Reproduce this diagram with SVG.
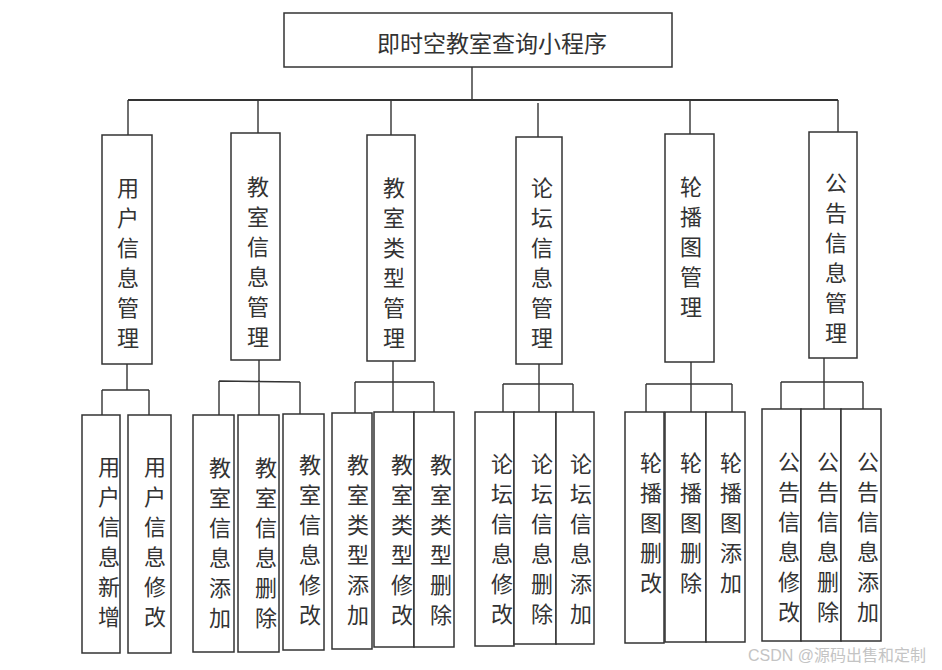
<svg xmlns="http://www.w3.org/2000/svg" width="942" height="670" viewBox="0 0 942 670">
<style>
  .box { fill: #ffffff; stroke: #333333; stroke-width: 1.5; }
  .t { font-family: "Noto Sans CJK SC", sans-serif; font-size: 22px; fill: #333333; text-anchor: middle; }
  .title { font-family: "Noto Sans CJK SC", sans-serif; font-size: 23px; fill: #333333; text-anchor: middle; }
  .conn path { fill: none; stroke: #333333; stroke-width: 1.4; }
  .wm { font-family: "Liberation Sans", "Noto Sans CJK SC", sans-serif; font-size: 16px; fill: #c4c4c4; }
</style>
<rect width="942" height="670" fill="#ffffff"/>
<g id="connectors" class="conn">
  <path d="M472,67 V100"/>
  <path d="M128,100 H838" style="stroke-width:2"/>
  <path d="M128,100 V135 M258,100 V133 M391,100 V135 M538,103 V137 M690,100 V134 M838,100 V132"/>
  <path d="M127,364 V390 M102,390 H149 M102,390 V415 M149,390 V417"/>
  <path d="M259,360 V415 M219,381 L300,382 M219,381 V415 M300,382 V414"/>
  <path d="M393,361 V412 M355,382 H434 M355,382 V413 M434,382 V412"/>
  <path d="M539,364 V412 M503,384 H573 M503,384 V412 M573,384 V412"/>
  <path d="M691,362 V412 M646,384 H732 M646,384 V412 M732,384 V412"/>
  <path d="M824,358 V409 M781,382 H863 M781,382 V409 M863,382 V409"/>
</g>
<g id="root">
  <rect class="box" x="284" y="13" width="388" height="54"/>
  <text class="title" x="492" y="52">即时空教室查询小程序</text>
</g>
<g id="n1">
  <rect class="box" x="102" y="135" width="50" height="229"/>
  <text class="t"><tspan x="128" y="196">用</tspan><tspan x="128" dy="30">户</tspan><tspan x="128" dy="30">信</tspan><tspan x="128" dy="30">息</tspan><tspan x="128" dy="30">管</tspan><tspan x="128" dy="30">理</tspan></text>
</g>
<g id="n2">
  <rect class="box" x="231" y="133" width="49" height="227"/>
  <text class="t"><tspan x="258" y="195">教</tspan><tspan x="258" dy="30">室</tspan><tspan x="258" dy="30">信</tspan><tspan x="258" dy="30">息</tspan><tspan x="258" dy="30">管</tspan><tspan x="258" dy="30">理</tspan></text>
</g>
<g id="n3">
  <rect class="box" x="367" y="135" width="48" height="226"/>
  <text class="t"><tspan x="394" y="196">教</tspan><tspan x="394" dy="30">室</tspan><tspan x="394" dy="30">类</tspan><tspan x="394" dy="30">型</tspan><tspan x="394" dy="30">管</tspan><tspan x="394" dy="30">理</tspan></text>
</g>
<g id="n4">
  <rect class="box" x="516" y="137" width="46" height="227"/>
  <text class="t"><tspan x="542" y="196">论</tspan><tspan x="542" dy="30">坛</tspan><tspan x="542" dy="30">信</tspan><tspan x="542" dy="30">息</tspan><tspan x="542" dy="30">管</tspan><tspan x="542" dy="30">理</tspan></text>
</g>
<g id="n5">
  <rect class="box" x="665" y="134" width="49" height="228"/>
  <text class="t"><tspan x="691" y="195">轮</tspan><tspan x="691" dy="30">播</tspan><tspan x="691" dy="30">图</tspan><tspan x="691" dy="30">管</tspan><tspan x="691" dy="30">理</tspan></text>
</g>
<g id="n6">
  <rect class="box" x="809" y="132" width="48" height="226"/>
  <text class="t"><tspan x="836" y="191">公</tspan><tspan x="836" dy="30">告</tspan><tspan x="836" dy="30">信</tspan><tspan x="836" dy="30">息</tspan><tspan x="836" dy="30">管</tspan><tspan x="836" dy="30">理</tspan></text>
</g>
<g id="a1">
  <rect class="box" x="82" y="415" width="38" height="238"/>
  <text class="t"><tspan x="109" y="475">用</tspan><tspan x="109" dy="30">户</tspan><tspan x="109" dy="30">信</tspan><tspan x="109" dy="30">息</tspan><tspan x="109" dy="30">新</tspan><tspan x="109" dy="30">增</tspan></text>
</g>
<g id="a2">
  <rect class="box" x="128" y="415" width="43" height="238"/>
  <text class="t"><tspan x="155" y="475">用</tspan><tspan x="155" dy="30">户</tspan><tspan x="155" dy="30">信</tspan><tspan x="155" dy="30">息</tspan><tspan x="155" dy="30">修</tspan><tspan x="155" dy="30">改</tspan></text>
</g>
<g id="b1">
  <rect class="box" x="193" y="415" width="41" height="237"/>
  <text class="t"><tspan x="220" y="476">教</tspan><tspan x="220" dy="30">室</tspan><tspan x="220" dy="30">信</tspan><tspan x="220" dy="30">息</tspan><tspan x="220" dy="30">添</tspan><tspan x="220" dy="30">加</tspan></text>
</g>
<g id="b2">
  <rect class="box" x="238" y="415" width="41" height="237"/>
  <text class="t"><tspan x="266" y="476">教</tspan><tspan x="266" dy="30">室</tspan><tspan x="266" dy="30">信</tspan><tspan x="266" dy="30">息</tspan><tspan x="266" dy="30">删</tspan><tspan x="266" dy="30">除</tspan></text>
</g>
<g id="b3">
  <rect class="box" x="283" y="414" width="41" height="236"/>
  <text class="t"><tspan x="310" y="473">教</tspan><tspan x="310" dy="30">室</tspan><tspan x="310" dy="30">信</tspan><tspan x="310" dy="30">息</tspan><tspan x="310" dy="30">修</tspan><tspan x="310" dy="30">改</tspan></text>
</g>
<g id="c1">
  <rect class="box" x="332" y="413" width="40" height="236"/>
  <text class="t"><tspan x="358" y="473">教</tspan><tspan x="358" dy="30">室</tspan><tspan x="358" dy="30">类</tspan><tspan x="358" dy="30">型</tspan><tspan x="358" dy="30">添</tspan><tspan x="358" dy="30">加</tspan></text>
</g>
<g id="c2">
  <rect class="box" x="374" y="412" width="40" height="235"/>
  <text class="t"><tspan x="402" y="473">教</tspan><tspan x="402" dy="30">室</tspan><tspan x="402" dy="30">类</tspan><tspan x="402" dy="30">型</tspan><tspan x="402" dy="30">修</tspan><tspan x="402" dy="30">改</tspan></text>
</g>
<g id="c3">
  <rect class="box" x="414" y="412" width="40" height="235"/>
  <text class="t"><tspan x="441" y="473">教</tspan><tspan x="441" dy="30">室</tspan><tspan x="441" dy="30">类</tspan><tspan x="441" dy="30">型</tspan><tspan x="441" dy="30">删</tspan><tspan x="441" dy="30">除</tspan></text>
</g>
<g id="d1">
  <rect class="box" x="475" y="412" width="39" height="234"/>
  <text class="t"><tspan x="502" y="472">论</tspan><tspan x="502" dy="30">坛</tspan><tspan x="502" dy="30">信</tspan><tspan x="502" dy="30">息</tspan><tspan x="502" dy="30">修</tspan><tspan x="502" dy="30">改</tspan></text>
</g>
<g id="d2">
  <rect class="box" x="514" y="412" width="42" height="232"/>
  <text class="t"><tspan x="542" y="472">论</tspan><tspan x="542" dy="30">坛</tspan><tspan x="542" dy="30">信</tspan><tspan x="542" dy="30">息</tspan><tspan x="542" dy="30">删</tspan><tspan x="542" dy="30">除</tspan></text>
</g>
<g id="d3">
  <rect class="box" x="556" y="412" width="38" height="232"/>
  <text class="t"><tspan x="581" y="472">论</tspan><tspan x="581" dy="30">坛</tspan><tspan x="581" dy="30">信</tspan><tspan x="581" dy="30">息</tspan><tspan x="581" dy="30">添</tspan><tspan x="581" dy="30">加</tspan></text>
</g>
<g id="e1">
  <rect class="box" x="625" y="412" width="39" height="231"/>
  <text class="t"><tspan x="651" y="471">轮</tspan><tspan x="651" dy="30">播</tspan><tspan x="651" dy="30">图</tspan><tspan x="651" dy="30">删</tspan><tspan x="651" dy="30">改</tspan></text>
</g>
<g id="e2">
  <rect class="box" x="665" y="412" width="41" height="230"/>
  <text class="t"><tspan x="691" y="471">轮</tspan><tspan x="691" dy="30">播</tspan><tspan x="691" dy="30">图</tspan><tspan x="691" dy="30">删</tspan><tspan x="691" dy="30">除</tspan></text>
</g>
<g id="e3">
  <rect class="box" x="706" y="412" width="39" height="230"/>
  <text class="t"><tspan x="731" y="471">轮</tspan><tspan x="731" dy="30">播</tspan><tspan x="731" dy="30">图</tspan><tspan x="731" dy="30">添</tspan><tspan x="731" dy="30">加</tspan></text>
</g>
<g id="f1">
  <rect class="box" x="762" y="409" width="39" height="232"/>
  <text class="t"><tspan x="789" y="470">公</tspan><tspan x="789" dy="30">告</tspan><tspan x="789" dy="30">信</tspan><tspan x="789" dy="30">息</tspan><tspan x="789" dy="30">修</tspan><tspan x="789" dy="30">改</tspan></text>
</g>
<g id="f2">
  <rect class="box" x="801" y="409" width="40" height="232"/>
  <text class="t"><tspan x="828" y="470">公</tspan><tspan x="828" dy="30">告</tspan><tspan x="828" dy="30">信</tspan><tspan x="828" dy="30">息</tspan><tspan x="828" dy="30">删</tspan><tspan x="828" dy="30">除</tspan></text>
</g>
<g id="f3">
  <rect class="box" x="841" y="409" width="40" height="232"/>
  <text class="t"><tspan x="868" y="470">公</tspan><tspan x="868" dy="30">告</tspan><tspan x="868" dy="30">信</tspan><tspan x="868" dy="30">息</tspan><tspan x="868" dy="30">添</tspan><tspan x="868" dy="30">加</tspan></text>
</g>
<text class="wm" x="748" y="661">CSDN @源码出售和定制</text>
</svg>
